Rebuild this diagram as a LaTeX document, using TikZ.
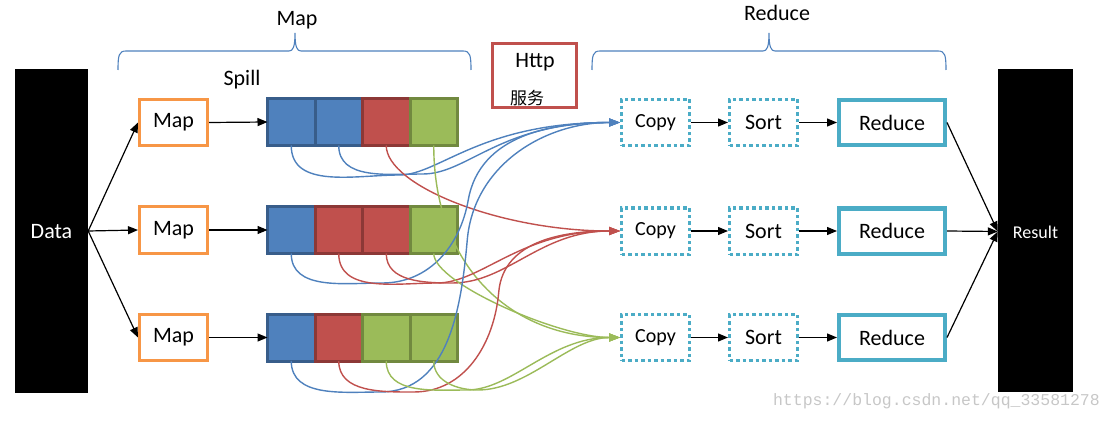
\documentclass[tikz,border=0pt]{standalone}
\usepackage{fontspec}
\setmainfont{Carlito}
\newfontfamily\cjk{Noto Sans CJK SC}
\newfontfamily\wmfont{Liberation Mono}
\usetikzlibrary{positioning, arrows.meta}

\definecolor{maporange}{HTML}{F79646}
\definecolor{redteal}{HTML}{4BACC6}
\definecolor{spillblue}{HTML}{4F81BD}
\definecolor{spillblueedge}{HTML}{385D8A}
\definecolor{spillred}{HTML}{C0504D}
\definecolor{spillrededge}{HTML}{8C3836}
\definecolor{spillgreen}{HTML}{9BBB59}
\definecolor{spillgreenedge}{HTML}{71893F}

\begin{document}
\begin{tikzpicture}[x=1pt, y=1pt,
  txt/.style={font=\fontsize{22}{26}\selectfont, inner sep=0pt},
  mapbox/.style={txt, draw=maporange, line width=3pt, minimum width=68pt, minimum height=46pt},
  cell/.style={line width=3pt, outer sep=0pt, inner sep=0pt, minimum width=47.5pt, minimum height=47pt},
  bcell/.style={cell, draw=spillblueedge, fill=spillblue},
  rcell/.style={cell, draw=spillrededge, fill=spillred},
  gcell/.style={cell, draw=spillgreenedge, fill=spillgreen},
  dotbox/.style={txt, draw=redteal, line width=3pt, dash pattern=on 3.5pt off 3pt, minimum width=68pt, minimum height=46pt},
  redbox/.style={txt, draw=redteal, line width=4pt, minimum width=106pt, minimum height=45pt},
  arr/.style={line width=1.2pt, -{Triangle[length=10pt,width=8pt]}},
  flow/.style={line width=1.4pt, -{Triangle[length=11pt,width=8pt]}},
  brc/.style={draw=spillblue, line width=1.1pt}
]
\useasboundingbox (0,0) rectangle (1111,421);

% input and output
\node[fill=black, minimum width=73pt, minimum height=324pt, inner sep=0pt] (data) at (51.5,190) {};
\node[txt, text=white] (datatxt) at (51.5,189) {Data};
\node[fill=black, minimum width=75pt, minimum height=323pt, inner sep=0pt] (res) at (1035.5,190.5) {};
\node[txt, text=white, font=\fontsize{18}{22}\selectfont] (restxt) at (1035.5,189) {Result};

% titles and braces
\foreach \a/\m/\b in {118/295/471, 592/769/946} {
  \draw[brc] (\a,351) .. controls (\a,366) and (\a+1,370) .. (\a+8,370) -- (\m-6,370)
    .. controls (\m-2,370) and (\m,374) .. (\m,388) .. controls (\m,374) and (\m+2,370) .. (\m+6,370)
    -- (\b-8,370) .. controls (\b-1,370) and (\b,366) .. (\b,351);
}
\node[txt] (maptitle) at (297,401) {Map};
\node[txt] (redtitle) at (777,408) {Reduce};
\node[txt] (spill) at (242,341) {Spill};

\node[draw=spillred, line width=3pt, minimum width=84pt, minimum height=64pt] (http) at (534.5,345.5) {};
\node[txt] (httpa) at (535,359) {Http};
\node[font=\cjk\fontsize{17}{20}\selectfont, inner sep=0pt] (httpb) at (527,323) {服务};

% map tasks
\node[mapbox] (map1) at (173.5,298.5) {Map};
\node[mapbox] (map2) at (173.5,191) {Map};
\node[mapbox] (map3) at (173.5,83.5) {Map};

% spill files
\node[bcell, anchor=west] (c11) at (267.5,299) {};
\node[bcell, right=0pt of c11] (c12) {};
\node[rcell, right=0pt of c12] (c13) {};
\node[gcell, right=0pt of c13] (c14) {};

\node[bcell, anchor=west] (c21) at (267.5,191) {};
\node[rcell, right=0pt of c21] (c22) {};
\node[rcell, right=0pt of c22] (c23) {};
\node[gcell, right=0pt of c23] (c24) {};

\node[bcell, anchor=west] (c31) at (267.5,83.5) {};
\node[rcell, right=0pt of c31] (c32) {};
\node[gcell, right=0pt of c32] (c33) {};
\node[gcell, right=0pt of c33] (c34) {};

% reduce tasks
\node[dotbox, font=\fontsize{20}{24}\selectfont] (cp1) at (655.5,298.5) {Copy};
\node[dotbox] (st1) at (763.5,298.5) {Sort};
\node[redbox] (rd1) at (892,298.5) {Reduce};
\node[dotbox, font=\fontsize{20}{24}\selectfont] (cp2) at (655.5,190) {Copy};
\node[dotbox] (st2) at (763.5,190) {Sort};
\node[redbox] (rd2) at (892,190) {Reduce};
\node[dotbox, font=\fontsize{20}{24}\selectfont] (cp3) at (655.5,83.5) {Copy};
\node[dotbox] (st3) at (763.5,83.5) {Sort};
\node[redbox] (rd3) at (892,83.5) {Reduce};

% black arrows
\foreach \i in {1,2,3} {
  \draw[arr] (data.east) -- (map\i.west);
  \draw[arr] (cp\i.east) -- (st\i.west);
  \draw[arr] (st\i.east) -- (rd\i.west);
  \draw[arr] (rd\i.east) -- ([yshift=-1pt]res.west);
}
\draw[arr] (map1.east) -- (c11.west);
\draw[arr] (map2.east) -- (c21.west);
\draw[arr] (map3.east) -- (c31.west);

% shuffle
\draw[flow, spillblue] (c11.south) to[out=-90,in=180] ++(108,-29.5) .. controls +(40,0) and +(-140,0) .. (cp1.west);
\draw[flow, spillblue] (c12.south) to[out=-90,in=180] ++(84,-28.5) .. controls +(45,0) and +(-120,0) .. (cp1.west);
\draw[flow, spillred] (c13.south) .. controls +(0,-40) and +(-120,0) .. (cp2.west);
\draw[flow, spillgreen] (c14.south) .. controls +(0,-120) and +(-110,0) .. (cp3.west);

\draw[flow, spillblue] (c21.south) to[out=-90,in=180] ++(91,-29.5) to[out=0,in=-100] ++(86,83) to[out=80,in=180] (cp1.west);
\draw[flow, spillred] (c22.south) to[out=-90,in=180] ++(98,-29.5) .. controls +(45,0) and +(-100,0) .. (cp2.west);
\draw[flow, spillred] (c23.south) to[out=-90,in=180] ++(66,-29.5) .. controls +(55,0) and +(-80,0) .. (cp2.west);
\draw[flow, spillgreen] (c24.south) .. controls +(0,-30) and +(-60,0) .. (cp3.west);

\draw[flow, spillblue] (c31.south) to[out=-90,in=180] ++(89,-31) to[out=0,in=-95] ++(87,152) to[out=85,in=180] (cp1.west);
\draw[flow, spillred] (c32.south) to[out=-90,in=180] ++(75,-31) to[out=0,in=-95] ++(85,100) to[out=85,in=180] (cp2.west);
\draw[flow, spillgreen] (c33.south) to[out=-90,in=180] ++(80.5,-29) .. controls +(45,0) and +(-70,0) .. (cp3.west);
\draw[flow, spillgreen] (c34.south) to[out=-90,in=180] ++(44,-29) .. controls +(50,0) and +(-50,0) .. (cp3.west);

\node[font=\wmfont\fontsize{16.5}{18}\selectfont, text=black!22, anchor=east, inner sep=0pt] (wm) at (1100,20) {https://blog.csdn.net/qq\_33581278};
\end{tikzpicture}
\end{document}
